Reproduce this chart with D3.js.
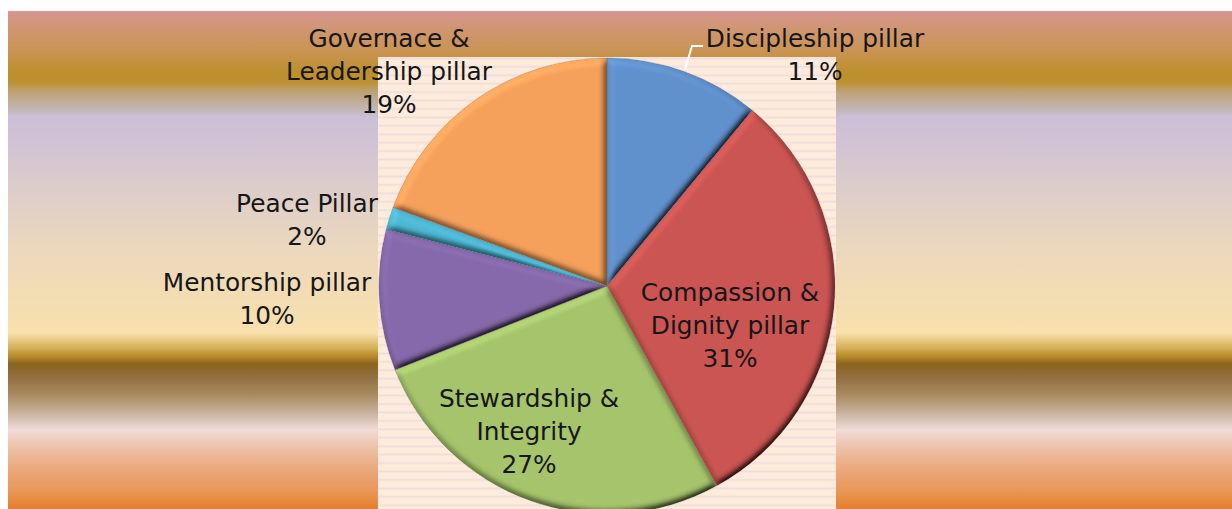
<!DOCTYPE html>
<html>
<head>
<meta charset="utf-8">
<script src="https://cdn.jsdelivr.net/npm/d3@7"></script>
<style>
  html, body { margin: 0; padding: 0; background: #ffffff; }
  svg { display: block; }
</style>
</head>
<body>
<svg id="chart" width="1232" height="509"></svg>
<script>
// ---------- DATA ----------
const categories = ["Discipleship pillar", "Compassion & Dignity pillar", "Stewardship & Integrity",
                    "Mentorship pillar", "Peace Pillar", "Governace & Leadership pillar"];
const values = [11, 31, 27, 10, 1.6, 19.4];
const labelLines = [["Discipleship pillar"], ["Compassion &", "Dignity pillar"], ["Stewardship &", "Integrity"],
                    ["Mentorship pillar"], ["Peace Pillar"], ["Governace &", "Leadership pillar"]];

// ---------- STYLE / LAYOUT ----------
const sliceColors = ["#6191cd", "#ca5552", "#a5c46c", "#8669aa", "#4fb8d5", "#f5a15c"];
// label anchor offsets from pie centre (centre x, first baseline y)
const labelOffsets = [[208, -239], [123, 15], [-78, 121], [-340, 5], [-300, -74], [-218, -239]];
const W = 1232, H = 509;
const cx = 607, cy = 286, R = 228;
const lineH = 33;

const svg = d3.select("#chart");
const defs = svg.append("defs");

// outer background gradient
const bgStops = [
  [11, "#d99590"], [30, "#cf9670"], [52, "#c99452"], [72, "#bd8f2e"], [82, "#bd912f"],
  [92, "#bea276"], [106, "#c2b2aa"], [118, "#cbbfd8"], [150, "#d3c4d3"], [200, "#dfcfc8"],
  [250, "#ebd8bd"], [300, "#f3ddb2"], [333, "#f8e1ac"], [338, "#ecd08e"], [347, "#d7b35c"],
  [356, "#ba8b2b"], [364, "#8a641f"], [378, "#937040"], [394, "#a8895e"], [410, "#c3ab93"],
  [421, "#dac6ba"], [430, "#f0dcd8"], [446, "#eec3ac"], [470, "#eba77a"], [490, "#e8985a"],
  [509, "#e57f2b"]
];
const bgGrad = defs.append("linearGradient").attr("id", "bgGrad")
  .attr("gradientUnits", "userSpaceOnUse").attr("x1", 0).attr("x2", 0).attr("y1", 11).attr("y2", 509);
bgGrad.selectAll("stop").data(bgStops).join("stop")
  .attr("offset", d => (d[0] - 11) / (509 - 11))
  .attr("stop-color", d => d[1]);

svg.append("rect").attr("x", 8).attr("y", 11).attr("width", W - 8).attr("height", H - 11)
  .attr("fill", "url(#bgGrad)");

// plot area with stripes
const pat = defs.append("pattern").attr("id", "stripes").attr("patternUnits", "userSpaceOnUse")
  .attr("x", 0).attr("y", 57).attr("width", 10).attr("height", 8.43);
pat.append("rect").attr("width", 10).attr("height", 8.43).attr("fill", "#fdebdc");
pat.append("rect").attr("y", 0.6).attr("width", 10).attr("height", 1.6).attr("fill", "#eedcdc");
svg.append("rect").attr("x", 378).attr("y", 57).attr("width", 458).attr("height", H - 57)
  .attr("fill", "url(#stripes)");

// bevel filter
const f = defs.append("filter").attr("id", "bevel").attr("x", "-5%").attr("y", "-5%")
  .attr("width", "110%").attr("height", "110%");
f.append("feGaussianBlur").attr("in", "SourceAlpha").attr("stdDeviation", 3.6).attr("result", "blur");
const dl = f.append("feDiffuseLighting").attr("in", "blur").attr("surfaceScale", 6)
  .attr("diffuseConstant", 1).attr("lighting-color", "#ffffff").attr("result", "light");
dl.append("feDistantLight").attr("azimuth", 235).attr("elevation", 55);
f.append("feComposite").attr("in", "SourceGraphic").attr("in2", "light")
  .attr("operator", "arithmetic").attr("k1", 1.22).attr("k2", 0).attr("k3", 0).attr("k4", 0)
  .attr("result", "lit");
f.append("feComposite").attr("in", "lit").attr("in2", "SourceAlpha").attr("operator", "in");

// pie
const total = d3.sum(values);
const pie = d3.pie().sort(null).value(d => d)(values);
const arc = d3.arc().innerRadius(0).outerRadius(R);
const g = svg.append("g").attr("transform", `translate(${cx},${cy})`);

g.selectAll("path.slice").data(pie).join("path")
  .attr("class", "slice")
  .attr("d", arc)
  .attr("fill", (d, i) => sliceColors[i])
  .attr("filter", "url(#bevel)");
g.selectAll("path.edge").data(pie).join("path")
  .attr("class", "edge")
  .attr("d", arc)
  .attr("fill", "none")
  .attr("stroke", (d, i) => d3.color(sliceColors[i]).darker(1.2))
  .attr("stroke-opacity", 0.4)
  .attr("stroke-width", 0.8);

// labels
const fmt = d3.format(".0%");
const labels = svg.append("g")
  .attr("font-family", "'DejaVu Sans', sans-serif")
  .attr("font-size", 24.8)
  .attr("fill", "#161616")
  .attr("text-anchor", "middle");

pie.forEach((d, i) => {
  const lines = labelLines[i].concat([fmt(values[i] / total)]);
  const t = labels.append("text")
    .attr("x", cx + labelOffsets[i][0])
    .attr("y", cy + labelOffsets[i][1]);
  lines.forEach((ln, k) => {
    t.append("tspan").attr("x", cx + labelOffsets[i][0]).attr("dy", k === 0 ? 0 : lineH).text(ln);
  });
});

// leader line for first slice
{
  const d = pie[0];
  const mid = (d.startAngle + d.endAngle) / 2;
  const p0 = [cx + (R + 2) * Math.sin(mid), cy - (R + 2) * Math.cos(mid)];
  const lx = cx + labelOffsets[0][0] - 112;
  const ly = cy + labelOffsets[0][1] - 1;
  svg.append("path")
    .attr("d", d3.line()([p0, [lx - 11, ly], [lx, ly]]))
    .attr("fill", "none").attr("stroke", "#ffffff").attr("stroke-width", 2);
}
</script>
</body>
</html>
